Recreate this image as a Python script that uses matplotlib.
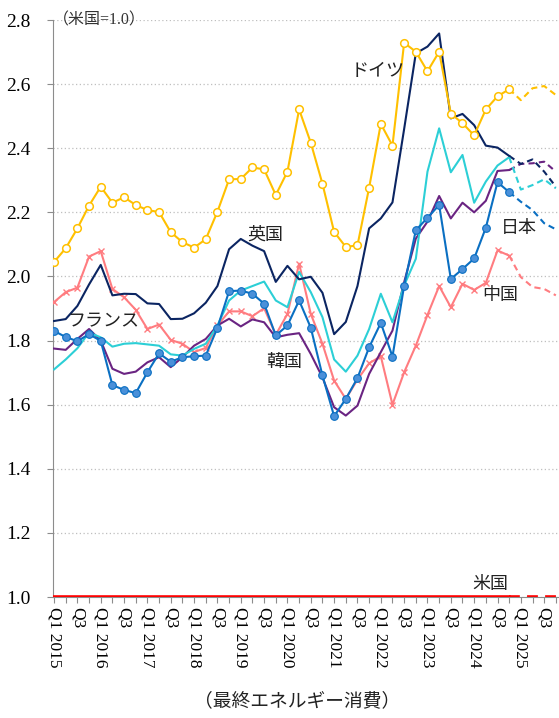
import matplotlib
matplotlib.use("Agg")
import matplotlib.pyplot as plt
import numpy as np

plt.rcParams['font.family'] = ['Liberation Serif', 'Noto Sans CJK JP']

# quarterly series, Q1 2015 .. Q4 2025 (last 4 quarters are projections)
years = list(range(2015, 2026))
quarters = ['Q1', 'Q2', 'Q3', 'Q4']
n_actual = 40  # through Q4 2024

germany = [2.045, 2.088, 2.150, 2.221, 2.280, 2.230, 2.247, 2.223, 2.207, 2.201,
           2.138, 2.107, 2.090, 2.116, 2.202, 2.303, 2.304, 2.340, 2.334, 2.254,
           2.327, 2.521, 2.417, 2.289, 2.139, 2.092, 2.097, 2.277, 2.476, 2.408,
           2.729, 2.701, 2.640, 2.701, 2.508, 2.478, 2.440, 2.521, 2.562, 2.584,
           2.550, 2.587, 2.594, 2.566]
uk = [1.861, 1.867, 1.908, 1.975, 2.036, 1.941, 1.946, 1.945, 1.916, 1.914,
      1.867, 1.868, 1.885, 1.918, 1.970, 2.085, 2.117, 2.096, 2.079, 1.983,
      2.033, 1.991, 1.999, 1.949, 1.820, 1.858, 1.970, 2.150, 2.181, 2.231,
      2.460, 2.696, 2.717, 2.758, 2.493, 2.507, 2.472, 2.408, 2.402, 2.376,
      2.351, 2.365, 2.327, 2.280]
france = [1.710, 1.741, 1.776, 1.825, 1.810, 1.781, 1.790, 1.792, 1.788, 1.784,
          1.757, 1.753, 1.774, 1.790, 1.847, 1.925, 1.956, 1.970, 1.984, 1.925,
          1.904, 2.014, 1.951, 1.873, 1.741, 1.703, 1.753, 1.836, 1.946, 1.857,
          1.972, 2.055, 2.327, 2.462, 2.325, 2.379, 2.230, 2.296, 2.346, 2.372,
          2.271, 2.285, 2.303, 2.275]
korea = [1.775, 1.771, 1.805, 1.836, 1.800, 1.712, 1.696, 1.703, 1.732, 1.748,
         1.717, 1.748, 1.784, 1.805, 1.847, 1.868, 1.844, 1.866, 1.857, 1.810,
         1.818, 1.823, 1.758, 1.685, 1.592, 1.566, 1.597, 1.696, 1.764, 1.831,
         1.982, 2.118, 2.171, 2.251, 2.181, 2.230, 2.200, 2.236, 2.329, 2.332,
         2.351, 2.353, 2.358, 2.327]
japan = [1.830, 1.811, 1.798, 1.820, 1.799, 1.661, 1.646, 1.636, 1.701, 1.760,
         1.734, 1.748, 1.751, 1.753, 1.840, 1.954, 1.956, 1.946, 1.915, 1.816,
         1.847, 1.925, 1.840, 1.691, 1.564, 1.618, 1.683, 1.779, 1.855, 1.750,
         1.971, 2.144, 2.183, 2.223, 1.992, 2.023, 2.056, 2.152, 2.294, 2.263,
         2.233, 2.207, 2.166, 2.147]
china = [1.920, 1.951, 1.965, 2.062, 2.079, 1.961, 1.935, 1.896, 1.836, 1.850,
         1.802, 1.790, 1.764, 1.777, 1.847, 1.891, 1.891, 1.876, 1.901, 1.818,
         1.883, 2.040, 1.883, 1.790, 1.675, 1.618, 1.678, 1.729, 1.751, 1.600,
         1.701, 1.784, 1.880, 1.970, 1.904, 1.977, 1.958, 1.980, 2.081, 2.065,
         1.998, 1.967, 1.961, 1.941]
usa = [1.0] * 44

tick_labels = []
for y in years:
    for q in quarters:
        if q == 'Q1':
            tick_labels.append(f'Q1 {y}')
        elif q == 'Q3':
            tick_labels.append('Q3')
        else:
            tick_labels.append('')

series = [
    # values, colour, line width, marker style
    (usa, '#FF0000', 2.6, {}),
    (china, '#FF7C80', 1.5, dict(marker='x', markersize=4.5, markeredgewidth=1.0)),
    (korea, '#6A2482', 1.5, {}),
    (france, '#2CCFD6', 1.5, {}),
    (japan, '#0A6FC2', 1.5, dict(marker='o', markersize=5.5, markerfacecolor='#4A90D9',
                                 markeredgecolor='#0A6FC2', markeredgewidth=0.8)),
    (uk, '#0B2562', 1.5, {}),
    (germany, '#FFC000', 1.5, dict(marker='o', markersize=5.5, markerfacecolor='white',
                                   markeredgecolor='#FFC000', markeredgewidth=1.1)),
]

fig = plt.figure(figsize=(5.59, 7.18), dpi=100)
ax = fig.add_axes([53 / 559, 1 - 597 / 718, 506 / 559, 577 / 718])

x = np.arange(len(germany))
for vals, color, lw, mk in series:
    vals = np.array(vals)
    ax.plot(x[:n_actual], vals[:n_actual], color=color, lw=lw, zorder=3, **mk)
    ax.plot(x[n_actual - 1:], vals[n_actual - 1:], color=color, lw=lw,
            linestyle=(0, (3, 2)), zorder=2.5)

ax.set_ylim(1.0, 2.8)
ax.set_xlim(-0.09, 43.27)
ax.set_yticks(np.arange(1.0, 2.81, 0.2))
ax.set_yticklabels([f'{v:.1f}' for v in np.arange(1.0, 2.81, 0.2)], fontsize=14)
ax.set_xticks(x)
ax.set_xticklabels(tick_labels, rotation=270, fontsize=12.5, va='top', ha='center')

ax.grid(axis='y', linestyle=(0, (1, 2)), color='#BFBFBF', lw=0.9)
ax.set_axisbelow(True)
for side in ['top', 'right']:
    ax.spines[side].set_visible(False)
ax.spines['left'].set_color('#8C8C8C')
ax.spines['bottom'].set_color('#8C8C8C')
ax.tick_params(axis='both', color='#8C8C8C', length=4, width=0.8)
ax.tick_params(axis='x', pad=3)
ax.tick_params(axis='y', pad=12)

ax.text(0.0, 1.0, '（米国=1.0）', transform=ax.transAxes, fontsize=11.5,
        ha='left', va='center', color='#333333')

labels = [
    ('ドイツ', 27.7, 2.64),
    ('英国', 18.1, 2.13),
    ('フランス', 4.2, 1.86),
    ('韓国', 19.7, 1.73),
    ('日本', 39.8, 2.15),
    ('中国', 38.2, 1.94),
    ('米国', 37.4, 1.04),
]
for txt, lx, ly in labels:
    ax.text(lx, ly, txt, fontsize=13, ha='center', va='center', color='#222222', zorder=5)

fig.text(297 / 559, 1 - 701 / 718, '（最終エネルギー消費）', fontsize=13.5,
         ha='center', va='center', color='#222222')

fig.savefig('out.png', dpi=100)
